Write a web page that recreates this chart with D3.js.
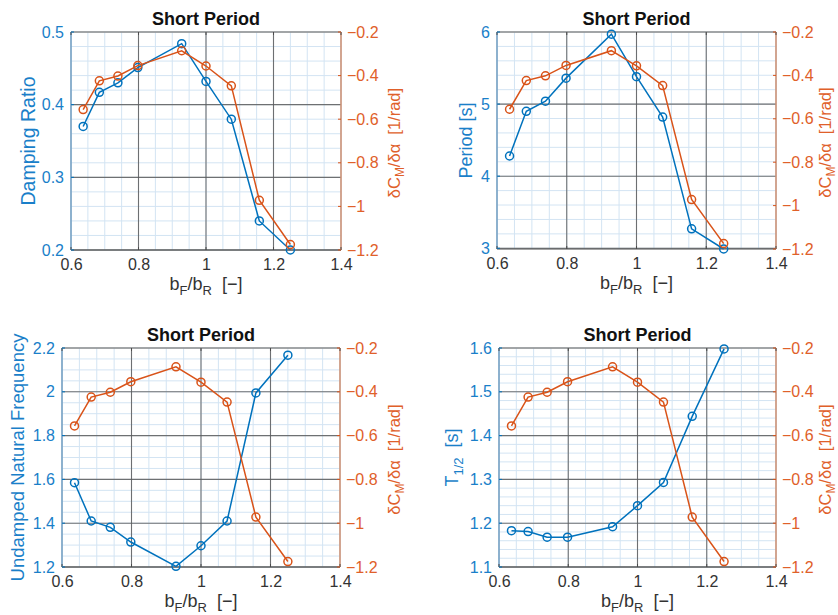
<!DOCTYPE html>
<html>
<head>
<meta charset="utf-8">
<script src="https://cdn.jsdelivr.net/npm/d3@7"></script>
<style>
  html, body { margin: 0; padding: 0; background: #fff; }
  svg { display: block; font-family: "Liberation Sans", Arial, Helvetica, sans-serif; }
</style>
</head>
<body>
<svg id="fig" width="838" height="615"></svg>
<script>
// Span ratio of front to rear wing, shared x values of every panel
const spanRatio = [0.636, 0.684, 0.739, 0.798, 0.928, 1.0, 1.075, 1.158, 1.25];

// Pitching-moment slope (right axis, same in every panel)
const dCmDalpha = [-0.556, -0.424, -0.402, -0.354, -0.286, -0.356, -0.447, -0.972, -1.175];

// Short-period characteristics (left axes)
const dampingRatio = [0.370, 0.417, 0.430, 0.451, 0.484, 0.432, 0.380, 0.240, 0.200];
const periodSec = [4.28, 4.90, 5.04, 5.36, 5.97, 5.38, 4.82, 3.27, 2.99];
const naturalFreq = [1.585, 1.410, 1.381, 1.314, 1.203, 1.297, 1.410, 1.995, 2.167];
const halfTime = [1.183, 1.181, 1.168, 1.168, 1.192, 1.240, 1.293, 1.444, 1.598];

// Tick labels
const xTicks = [0.6, 0.8, 1.0, 1.2, 1.4];
const rightTicks = [-1.2, -1.0, -0.8, -0.6, -0.4, -0.2];
const dampingTicks = [0.2, 0.3, 0.4, 0.5];
const periodTicks = [3, 4, 5, 6];
const freqTicks = [1.2, 1.4, 1.6, 1.8, 2.0, 2.2];
const halfTimeTicks = [1.1, 1.2, 1.3, 1.4, 1.5, 1.6];

const BLUE = "#0072BD";
const ORANGE = "#D95319";
const TICK_BLUE = "#1a7fc9";
const TICK_ORANGE = "#e0602a";
const GAP = "\u00a0\u00a0";

const panels = [
  { x0: 71, x1: 341, y0: 32, y1: 250, dom: [0.2, 0.5], ticks: dampingTicks, minor: 0.02,
    values: dampingRatio, label: [{ t: "Damping Ratio" }], labelSize: 19.5, labelX: 28, rLabelX: 394 },
  { x0: 497, x1: 776, y0: 32, y1: 249, dom: [2.99, 6], ticks: periodTicks, minor: 0.2,
    values: periodSec, label: [{ t: "Period [s]" }], labelSize: 18, labelX: 466, rLabelX: 825 },
  { x0: 62, x1: 340, y0: 348, y1: 567, dom: [1.2, 2.2], ticks: freqTicks, minor: 0.05,
    values: naturalFreq, label: [{ t: "Undamped Natural Frequency" }], labelSize: 18.5, labelX: 18, rLabelX: 394 },
  { x0: 499, x1: 776, y0: 348, y1: 567, dom: [1.1, 1.6], ticks: halfTimeTicks, minor: 0.02,
    values: halfTime, label: [{ t: "T" }, { t: "1/2", sub: true }, { t: GAP + "[s]", after: true }], labelSize: 18, labelX: 452, rLabelX: 825 }
];

const svg = d3.select("#fig");
const fmt = v => String(+v.toFixed(3)).replace("-", "\u2212");

function richText(sel, parts, size) {
  parts.forEach(p => {
    const ts = sel.append("tspan").text(p.t);
    if (p.sub) ts.attr("font-size", size * 0.72).attr("dy", size * 0.25);
    else if (p.after) ts.attr("dy", -size * 0.25);
  });
}

function minorValues(dom, step) {
  const out = [];
  const n0 = Math.ceil(dom[0] / step - 1e-9), n1 = Math.floor(dom[1] / step + 1e-9);
  for (let i = n0; i <= n1; i++) out.push(+(i * step).toFixed(6));
  return out;
}

panels.forEach(p => {
  const g = svg.append("g");
  const x = d3.scaleLinear().domain([0.6, 1.4]).range([p.x0, p.x1]);
  const yL = d3.scaleLinear().domain(p.dom).range([p.y1, p.y0]);
  const yR = d3.scaleLinear().domain([-1.2, -0.2]).range([p.y1, p.y0]);

  // minor grid
  const gm = g.append("g").attr("stroke", "#d3e4f3").attr("stroke-width", 1);
  minorValues([0.6, 1.4], 0.05).forEach(v => {
    gm.append("line").attr("x1", x(v)).attr("x2", x(v)).attr("y1", p.y0).attr("y2", p.y1);
  });
  minorValues(p.dom, p.minor).forEach(v => {
    gm.append("line").attr("x1", p.x0).attr("x2", p.x1).attr("y1", yL(v)).attr("y2", yL(v));
  });

  // major grid
  const gM = g.append("g").attr("stroke", "#5a5a5a").attr("stroke-width", 1.1).attr("stroke-opacity", 0.85);
  xTicks.forEach(v => {
    gM.append("line").attr("x1", x(v)).attr("x2", x(v)).attr("y1", p.y0).attr("y2", p.y1);
  });
  p.ticks.forEach(v => {
    gM.append("line").attr("x1", p.x0).attr("x2", p.x1).attr("y1", yL(v)).attr("y2", yL(v));
  });

  // axes box
  g.append("line").attr("x1", p.x0).attr("x2", p.x1).attr("y1", p.y0).attr("y2", p.y0)
    .attr("stroke", "#9a9a9a").attr("stroke-width", 1.2);
  g.append("line").attr("x1", p.x0).attr("x2", p.x1).attr("y1", p.y1).attr("y2", p.y1)
    .attr("stroke", "#4a4a4a").attr("stroke-width", 1.2);
  g.append("line").attr("x1", p.x0).attr("x2", p.x0).attr("y1", p.y0).attr("y2", p.y1)
    .attr("stroke", "#7db6e3").attr("stroke-width", 1.2);
  g.append("line").attr("x1", p.x1).attr("x2", p.x1).attr("y1", p.y0).attr("y2", p.y1)
    .attr("stroke", "#f0a27c").attr("stroke-width", 1.2);

  // x ticks and labels
  const xa = d3.axisBottom(x).tickValues(xTicks).tickSize(0).tickPadding(9).tickFormat(fmt);
  const gx = g.append("g").attr("transform", `translate(0,${p.y1})`).call(xa);
  gx.select(".domain").remove();
  gx.selectAll("text").attr("font-size", 16).attr("fill", "#333").attr("font-family", null);

  // left y axis
  const la = d3.axisLeft(yL).tickValues(p.ticks).tickSize(0).tickPadding(7).tickFormat(fmt);
  const gl = g.append("g").attr("transform", `translate(${p.x0},0)`).call(la);
  gl.select(".domain").remove();
  gl.selectAll("text").attr("font-size", 16).attr("fill", TICK_BLUE).attr("font-family", null);

  // right y axis
  const ra = d3.axisRight(yR).tickValues(rightTicks).tickSize(0).tickPadding(6).tickFormat(fmt);
  const gr = g.append("g").attr("transform", `translate(${p.x1},0)`).call(ra);
  gr.select(".domain").remove();
  gr.selectAll("text").attr("font-size", 16).attr("fill", TICK_ORANGE).attr("font-family", null);

  // inward tick marks
  const tk = g.append("g").attr("stroke-width", 1);
  xTicks.forEach(v => {
    tk.append("line").attr("x1", x(v)).attr("x2", x(v)).attr("y1", p.y1).attr("y2", p.y1 - 3).attr("stroke", "#4a4a4a");
    tk.append("line").attr("x1", x(v)).attr("x2", x(v)).attr("y1", p.y0).attr("y2", p.y0 + 3).attr("stroke", "#4a4a4a");
  });
  p.ticks.forEach(v => {
    tk.append("line").attr("x1", p.x0).attr("x2", p.x0 + 3).attr("y1", yL(v)).attr("y2", yL(v)).attr("stroke", BLUE);
  });
  rightTicks.forEach(v => {
    tk.append("line").attr("x1", p.x1).attr("x2", p.x1 - 3).attr("y1", yR(v)).attr("y2", yR(v)).attr("stroke", ORANGE);
  });

  // series
  const lineL = d3.line().x((d, i) => x(spanRatio[i])).y(d => yL(d));
  const lineR = d3.line().x((d, i) => x(spanRatio[i])).y(d => yR(d));
  [[p.values, yL, lineL, BLUE], [dCmDalpha, yR, lineR, ORANGE]].forEach(([vals, ys, ln, c]) => {
    g.append("path").attr("d", ln(vals)).attr("fill", "none").attr("stroke", c).attr("stroke-width", 1.5);
    g.append("g").selectAll("circle").data(vals).join("circle")
      .attr("cx", (d, i) => x(spanRatio[i])).attr("cy", d => ys(d)).attr("r", 4)
      .attr("fill", "none").attr("stroke", c).attr("stroke-width", 1.5);
  });

  // title
  const cx = (p.x0 + p.x1) / 2;
  g.append("text").attr("x", cx).attr("y", p.y0 - 7).attr("text-anchor", "middle")
    .attr("font-size", 18).attr("font-weight", "bold").attr("fill", "#111").text("Short Period");

  // x label
  const xl = g.append("text").attr("x", cx).attr("y", p.y1 + 40).attr("text-anchor", "middle")
    .attr("font-size", 18).attr("fill", "#333");
  richText(xl, [{ t: "b" }, { t: "F", sub: true }, { t: "/b", after: true }, { t: "R", sub: true }, { t: GAP + "[\u2212]", after: true }], 18);

  // left label
  const cy = (p.y0 + p.y1) / 2;
  const yl = g.append("text").attr("transform", `translate(${p.labelX},${cy}) rotate(-90)`)
    .attr("text-anchor", "middle").attr("dy", "0.35em").attr("font-size", p.labelSize).attr("fill", TICK_BLUE);
  richText(yl, p.label, p.labelSize);

  // right label
  const rl = g.append("text").attr("transform", `translate(${p.rLabelX},${cy + 2}) rotate(-90)`)
    .attr("text-anchor", "middle").attr("dy", "0.35em").attr("font-size", 16.5).attr("fill", TICK_ORANGE);
  richText(rl, [{ t: "\u03b4C" }, { t: "M", sub: true }, { t: "/\u03b4\u03b1" + GAP + "[1/rad]", after: true }], 16.5);
});
</script>
</body>
</html>
